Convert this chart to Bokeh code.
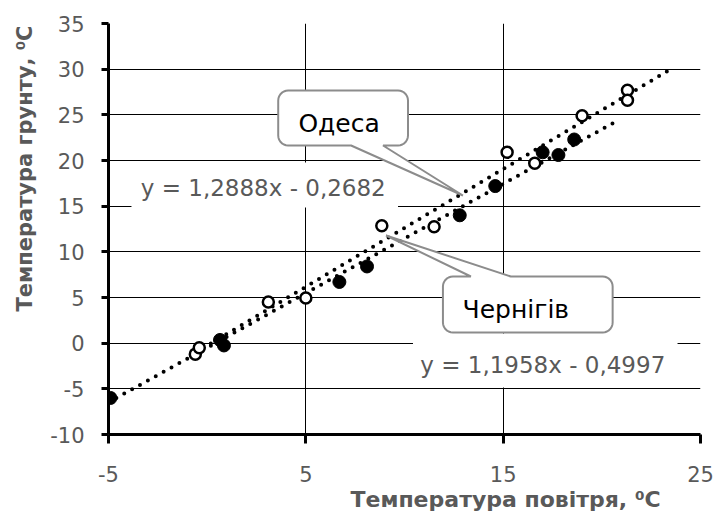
import numpy as np
from bokeh.plotting import figure
from bokeh.models import Label, FixedTicker, Title
from bokeh.embed import file_html
from bokeh.resources import INLINE

# ---------------- data ----------------
odesa_x = [-0.6, -0.4, 3.1, 5.0, 8.85, 11.5, 15.2, 16.6, 19.0, 21.3, 21.3]
odesa_y = [-1.2, -0.5, 4.5, 4.95, 12.85, 12.75, 20.9, 19.7, 24.9, 27.7, 26.6]
chern_x = [-4.9, 0.65, 0.85, 6.7, 8.1, 12.8, 14.6, 17.0, 17.8, 18.6]
chern_y = [-6.0, 0.35, -0.25, 6.7, 8.4, 14.0, 17.2, 20.9, 20.6, 22.3]

odesa_fit = (1.2888, -0.2682)
chern_fit = (1.1958, -0.4997)
forecast_forward = 2.0

x_ticks = [-5, 5, 15, 25]
y_ticks = [-10, -5, 0, 5, 10, 15, 20, 25, 30, 35]
x_title = "Температура повітря, ⁰C"
y_title = "Температура грунту, ⁰C"
callout_names = ["Одеса", "Чернігів"]

# ---------------- layout ----------------
W, H = 717, 515
FL, FT, FW, FH = 107, 23, 593, 411   # frame in canvas px
XMIN, XMAX, YMIN, YMAX = -5, 25, -10, 35

def X(px):  # canvas px -> data x
    return XMIN + (px - FL) * (XMAX - XMIN) / FW

def Y(py):  # canvas py -> data y
    return YMAX - (py - FT) * (YMAX - YMIN) / FH

FONT = "DejaVu Sans"
GRAY = "#595959"

p = figure(width=W, height=H, x_range=(XMIN, XMAX), y_range=(YMIN, YMAX),
           output_backend="svg", toolbar_location=None,
           min_border_left=FL, min_border_right=W - FL - FW,
           min_border_top=FT, min_border_bottom=H - FT - FH)
p.outline_line_color = None
p.background_fill_color = "white"
p.border_fill_color = "white"

for ax in (p.xaxis, p.yaxis):
    ax.axis_line_width = 3
    ax.axis_line_color = "black"
    ax.major_tick_line_width = 3
    ax.major_tick_line_color = "black"
    ax.major_tick_in = 0
    ax.minor_tick_line_color = None
    ax.major_label_text_color = GRAY
    ax.major_label_text_font = FONT
    ax.major_label_text_font_size = "21px"
p.xaxis.major_label_standoff = 22
p.yaxis.major_label_standoff = 17
p.xaxis.major_tick_out = 9
p.yaxis.major_tick_out = 7
p.xaxis.ticker = FixedTicker(ticks=x_ticks)
p.yaxis.ticker = FixedTicker(ticks=y_ticks)
p.xaxis.major_label_overrides = {t: str(t) for t in x_ticks}
p.yaxis.major_label_overrides = {t: str(t) for t in y_ticks}
p.xgrid.ticker = FixedTicker(ticks=x_ticks)
p.ygrid.ticker = FixedTicker(ticks=y_ticks)
for g in (p.xgrid, p.ygrid):
    g.grid_line_color = "black"
    g.grid_line_width = 1

# white boxes behind the equation texts
p.quad(left=[X(130), X(412)], right=[X(397), X(677)],
       top=[Y(162), Y(333)], bottom=[Y(207), Y(387)],
       fill_color="white", line_color=None)

# trend lines
def trend(xs, fit, x0=None):
    a, b = fit
    lo = min(xs) if x0 is None else x0
    hi = max(xs) + forecast_forward
    xx = np.array([lo, hi])
    return xx, a * xx + b

tx, ty = trend(chern_x, chern_fit, x0=XMIN)
p.line(tx, ty, line_color="black", line_width=4, line_dash="0 9", line_cap="round")
tx, ty = trend(odesa_x, odesa_fit)
p.line(tx, ty, line_color="black", line_width=4, line_dash="0 9", line_cap="round")

# markers
p.scatter(chern_x, chern_y, size=13, fill_color="black", line_color="black", line_width=1)
p.scatter(odesa_x, odesa_y, size=11, fill_color="white", line_color="black", line_width=2.5)

# equation labels
def eq_text(fit):
    a, b = fit
    sign = "-" if b < 0 else "+"
    return f"y = {a:.4f}x {sign} {abs(b):.4f}".replace(".", ",")

p.add_layout(Label(x=X(262), y=Y(187), text=eq_text(odesa_fit), text_align="center",
                   text_baseline="middle", text_font=FONT, text_font_size="23px",
                   text_color=GRAY))
p.add_layout(Label(x=X(542), y=Y(364), text=eq_text(chern_fit), text_align="center",
                   text_baseline="middle", text_font=FONT, text_font_size="23px",
                   text_color=GRAY))

# callouts
def callout(x0, y0, x1, y1, r, edge, ba, bb, tip):
    pts = []
    def arc(cx, cy, t0, t1):
        for t in np.linspace(t0, t1, 8):
            pts.append((cx + r * np.cos(t), cy + r * np.sin(t)))
    pts.append((x0 + r, y0))
    if edge == "top":
        pts += [(ba, y0), tip, (bb, y0)]
    arc(x1 - r, y0 + r, -np.pi / 2, 0)
    arc(x1 - r, y1 - r, 0, np.pi / 2)
    if edge == "bottom":
        pts += [(bb, y1), tip, (ba, y1)]
    arc(x0 + r, y1 - r, np.pi / 2, np.pi)
    arc(x0 + r, y0 + r, np.pi, 3 * np.pi / 2)
    return [X(a) for a, _ in pts], [Y(b) for _, b in pts]

cx1, cy1 = callout(277, 90, 407, 145, 10, "bottom", 350, 382, (462, 195))
cx2, cy2 = callout(442, 276, 612, 332, 10, "top", 470, 510, (385, 235))
p.patches([cx1, cx2], [cy1, cy2], fill_color="white", line_color="#8c8c8c", line_width=2)

p.add_layout(Label(x=X(338), y=Y(123), text=callout_names[0], text_align="center",
                   text_baseline="middle", text_font=FONT, text_font_size="25px",
                   text_color="black"))
p.add_layout(Label(x=X(515), y=Y(309), text=callout_names[1], text_align="center",
                   text_baseline="middle", text_font=FONT, text_font_size="25px",
                   text_color="black"))

# axis titles (side panels)
p.add_layout(Title(text=x_title, align="left", offset=242, text_font=FONT,
                   text_font_size="22px", text_font_style="bold", text_color=GRAY,
                   standoff=0), "below")
p.add_layout(Title(text=y_title, align="right", offset=2, text_font=FONT,
                   text_font_size="21px", text_font_style="bold", text_color=GRAY,
                   standoff=21), "left")

open("out.html", "w").write(file_html(p, INLINE))
